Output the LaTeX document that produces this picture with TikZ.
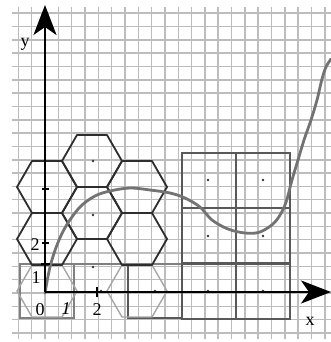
\documentclass[tikz,border=0pt]{standalone}
\usepackage{fontspec}
\setmainfont{Liberation Serif}
\usetikzlibrary{arrows.meta}
\begin{document}
\begin{tikzpicture}[x=1pt,y=-1pt,
  gridline/.style={draw=black!26, line width=1.6pt},
  hexdark/.style={draw=black!82, line width=1.8pt, line join=round},
  hexlight/.style={draw=black!35, line width=1.4pt, line join=round},
  sq/.style={draw=black!65, line width=1.6pt},
  sqlight/.style={draw=black!50, line width=1.4pt},
  axisline/.style={line width=2.4pt, -{Stealth[length=30pt,width=23pt,inset=8pt]}},
  curveline/.style={draw=black!55, line width=2.8pt, line cap=round},
  dotmark/.style={circle, fill=black!80, inner sep=0pt, minimum size=2.8pt},
  tickmark/.style={line width=2.4pt},
  lab/.style={font=\fontsize{18}{18}\selectfont, inner sep=0pt}]
\useasboundingbox (0,0) rectangle (331,342);
\fill[white] (0,0) rectangle (331,342);
% grid
\foreach \k in {-2,...,21} \draw[gridline] ({45+13.33*\k},7) -- ({45+13.33*\k},339);
\foreach \k in {-3,...,21} \draw[gridline] (12,{293-13.33*\k}) -- (331,{293-13.33*\k});
% left row of squares
\draw[sqlight] (20,264) rectangle (74,318);
\draw[sqlight] (74,264) -- (182,264);
\draw[sqlight] (74,264) -- (74,318);
\draw[sq] (128,264) -- (128,318) -- (182,318);
% big squares
\foreach \xa in {182,236} \foreach \ya in {153,208,264}
  \draw[sq] (\xa,\ya) rectangle ({\xa+54},{\ya+55});
% light hexagons
\foreach \cx/\cy in {47/291,137/291}
  \draw[hexlight, shift={(\cx,\cy)}] (30,0) -- (15,26) -- (-15,26) -- (-30,0) -- (-15,-26) -- (15,-26) -- cycle;
% dark hexagons
\foreach \cx/\cy in {47/187,47/239,92/161,92/213,137/187,137/239}
  \draw[hexdark, shift={(\cx,\cy)}] (30,0) -- (15,26) -- (-15,26) -- (-30,0) -- (-15,-26) -- (15,-26) -- cycle;
% dots
\foreach \p [count=\i] in {(93,161),(138,188),(93,215),(93,267),(101,291),(155,291),(208,180),(263,180),(208,236),(263,236),(208,291),(263,291)}
  \node[dotmark] (d\i) at \p {};
% curve
\draw[curveline] plot[smooth, tension=0.55] coordinates {(45,293) (50,267) (57,245) (66,226) (80,207) (95,196) (110,191) (130,188) (150,190) (170,193) (185,198) (200,207) (212,220) (228,229) (245,233) (260,232) (275,222) (285,205) (292,180) (298,160) (304,140) (311,120) (317,100) (322,79) (326,67) (331,59)};
% axes
\coordinate (O) at (45,292);
\coordinate (Ytip) at (45,5);
\coordinate (Xtip) at (331,292);
\draw[axisline] (O) -- (Ytip);
\draw[axisline] (O) -- (Xtip);
% ticks
\draw[tickmark] (42,189) -- (49,189);
\draw[tickmark] (42,243) -- (49,243);
\draw[tickmark] (41,264) -- (50,264);
\draw[tickmark] (97,287) -- (97,297);
% labels
\node[lab] (ly) at (25,44) {y};
\node[lab] (lx) at (310,321) {x};
\node[lab] (l0) at (40,310) {0};
\node[lab] (l1x) at (66,309) {\itshape 1};
\node[lab] (l2x) at (97,310) {2};
\node[lab] (l1y) at (36,278) {1};
\node[lab] (l2y) at (35,245) {2};
\end{tikzpicture}
\end{document}
